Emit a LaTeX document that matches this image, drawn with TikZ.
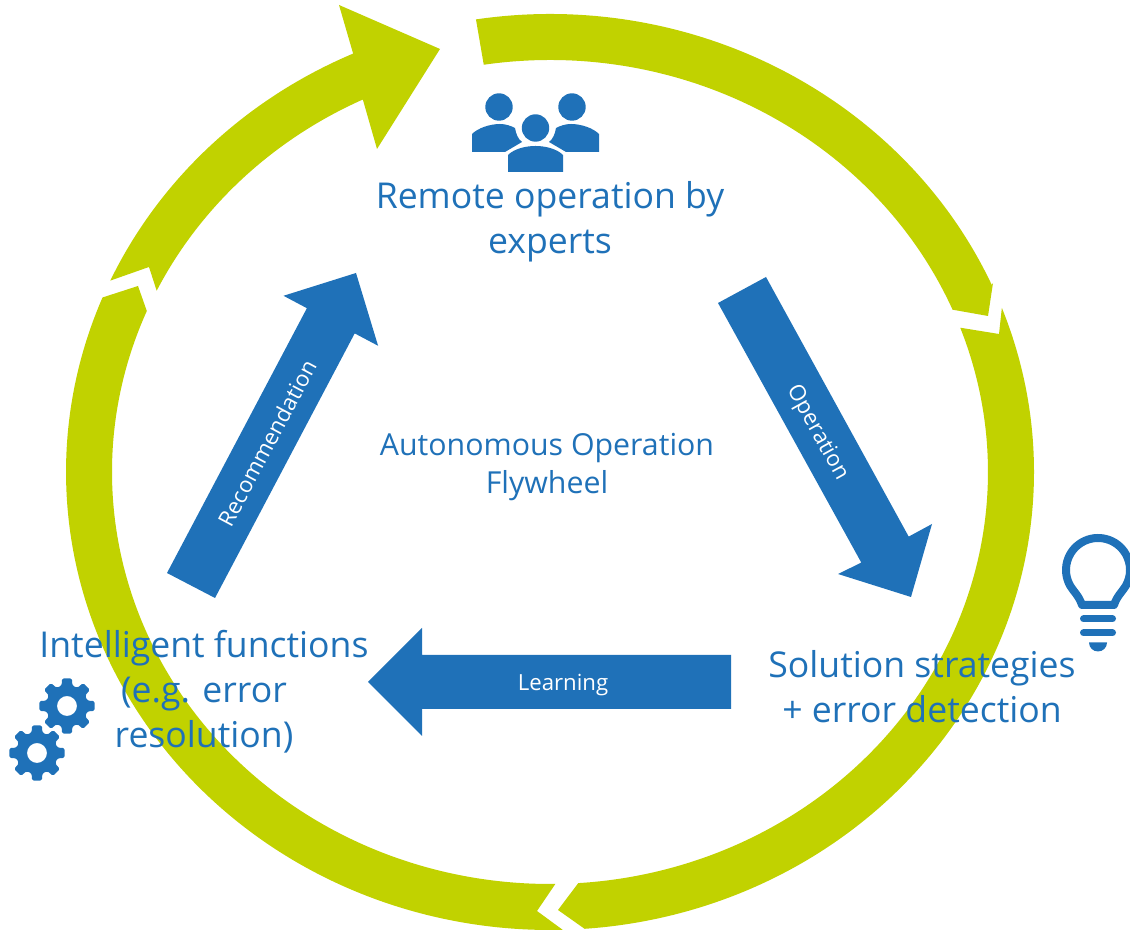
\documentclass[tikz,border=0pt]{standalone}
\usepackage{fontspec}
\setmainfont{Open Sans}
\definecolor{ringgreen}{HTML}{C1D200}
\definecolor{flyblue}{HTML}{1F71B8}
\newcommand{\ringpt}[1]{([shift={(550,464)}]#1)}
\tikzset{
  ring/.style={fill=ringgreen,draw=none},
  bluearrow/.style={fill=flyblue,draw=none},
  bigtext/.style={text=flyblue,font=\fontsize{35.6}{44.8}\selectfont,align=center,inner sep=0pt},
  midtext/.style={text=flyblue,font=\fontsize{30.3}{38}\selectfont,align=center,inner sep=0pt},
  arrowtext/.style={text=white,font=\fontsize{22.2}{25}\selectfont,inner sep=0pt}
}
\begin{document}
\begin{tikzpicture}[x=1pt,y=1pt]
\useasboundingbox (0,0) rectangle (1130,936);
\clip (0,0) rectangle (1130,936);
% ring segments (y up = 936 - pixel y)
\path[ring] \ringpt{98.8:484 and 458} arc[start angle=98.8,end angle=24.1,x radius=484,y radius=458]
  -- (993,653) -- (988,620) -- \ringpt{23.2:438 and 412} arc[start angle=23.2,end angle=98.7,x radius=438,y radius=412] -- cycle;
\path[ring] \ringpt{21:484 and 458} arc[start angle=21,end angle=-85.9,x radius=484,y radius=458]
  -- (558,26) -- \ringpt{-86.3:438 and 412} arc[start angle=-86.3,end angle=20.5,x radius=438,y radius=412] -- (999,602) -- cycle;
\path[ring] \ringpt{-88.5:484 and 458} arc[start angle=-88.5,end angle=-202.4,x radius=484,y radius=458]
  -- (138,650) -- \ringpt{157:438 and 412} arc[start angle=157,end angle=270.7,x radius=438,y radius=412] -- (537,25) -- cycle;
\path[ring] \ringpt{155.3:484 and 458} arc[start angle=155.3,end angle=114,x radius=484,y radius=458]
  -- (339,931) -- (440,887) -- (377,787) -- \ringpt{115.3:438 and 412} arc[start angle=115.3,end angle=153.9,x radius=438,y radius=412] -- (149,669) -- cycle;
% blue arrows
\path[bluearrow] (718,633) -- (766,659) -- (908.7,399.4) -- (932,412) -- (911,339) -- (838,362) -- (861.3,373.4) -- cycle;
\path[bluearrow] (167,363) -- (215,338) -- (354.7,602.6) -- (378.1,590.2) -- (356,663) -- (283.5,640.2) -- (306.9,627.8) -- cycle;
\path[bluearrow] (731,281) -- (422,281) -- (422,308) -- (368,254) -- (422,200) -- (422,227) -- (731,227) -- cycle;
% people icon
\fill[flyblue] (499,829) circle (13.7);
\fill[flyblue] (572,829) circle (13.7);
\fill[flyblue] (535.5,808) circle (13.7);
\fill[flyblue] (472,784) -- (472,802) .. controls (478,808) and (490,812) .. (500,812) .. controls (506,812) and (511,810) .. (515,808) .. controls (516,802) and (518,797) .. (522,794) -- (505,784) -- cycle;
\fill[flyblue] (599,784) -- (599,802) .. controls (593,808) and (581,812) .. (571,812) .. controls (565,812) and (560,810) .. (556,808) .. controls (555,802) and (553,797) .. (549,794) -- (566,784) -- cycle;
\fill[flyblue] (508,764) -- (508,781) .. controls (514,787) and (525,790) .. (535.5,790) .. controls (546,790) and (557,787) .. (563,781) -- (563,764) -- cycle;
% bulb
\draw[flyblue,line width=8pt,line join=round] (1082,331) .. controls (1079,340) and (1074,344) .. (1070.3,350) arc[start angle=210,end angle=-30,radius=32] .. controls (1122,344) and (1117,340) .. (1114,331) -- cycle;
\draw[flyblue,line width=7pt,line cap=round] (1083.5,317) -- (1112.5,317);
\draw[flyblue,line width=7pt,line cap=round] (1083.5,303) -- (1112.5,303);
\fill[flyblue] (1089,293.5) -- (1107,293.5) arc[start angle=0,end angle=-180,radius=9] -- cycle;
% gears
\foreach \cx/\cy in {67/230,37/183}{
  \fill[flyblue,even odd rule,rounded corners=1.5pt]
   \foreach \a [count=\i] in {0,45,...,315}{
     \ifnum\i=1 ([shift={(\cx,\cy)}]\a-10:28) \else -- ([shift={(\cx,\cy)}]\a-10:28) \fi
     -- ([shift={(\cx,\cy)}]\a+10:28) -- ([shift={(\cx,\cy)}]\a+15:21) -- ([shift={(\cx,\cy)}]\a+30:21)
   } -- cycle
   (\cx,\cy) circle (10);
}
% texts
\node[bigtext] (remote) at (550,714) {Remote operation by\\experts};
\node[bigtext] (intel) at (204,244) {Intelligent functions\\(e.g. error\\resolution)};
\node[bigtext] (sol) at (922,249) {Solution strategies\\+ error detection};
\node[midtext] (fly) at (547,469) {Autonomous Operation\\Flywheel};
\node[arrowtext,rotate=-61] (op) at (817,503) {Operation};
\node[arrowtext,rotate=62] (rec) at (267,493) {Recommendation};
\node[arrowtext] (learn) at (563,251) {Learning};
\end{tikzpicture}
\end{document}
